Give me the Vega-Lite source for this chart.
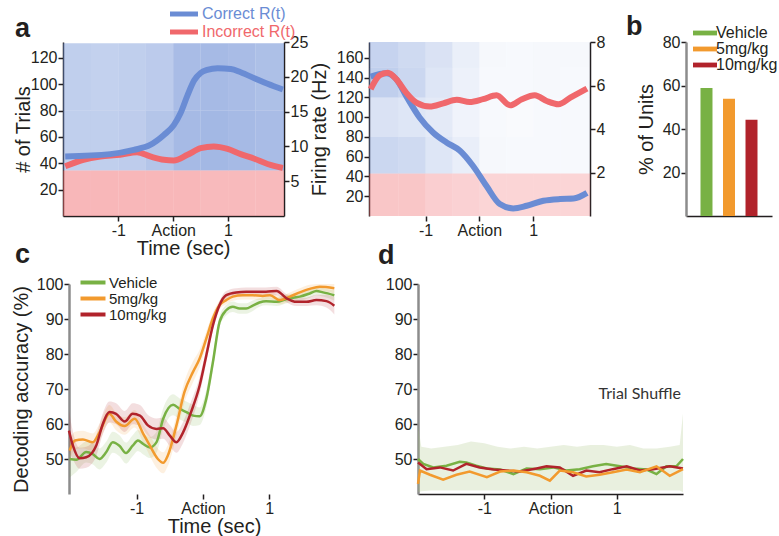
{
 "$schema": "https://vega.github.io/schema/vega-lite/v6.json",
 "padding": {"left": 11, "top": 6, "right": 0, "bottom": 0},
 "config": {
  "font": "Liberation Sans",
  "view": {"stroke": null},
  "axis": {"grid": false, "labelFontSize": 16, "titleFontSize": 20, "titleFontWeight": "normal", "labelColor": "#231f20", "titleColor": "#231f20", "domainColor": "#231f20", "tickColor": "#231f20", "domainWidth": 1.5, "tickWidth": 1.5, "tickSize": 5, "labelPadding": 1},
  "legend": {"labelFontSize": 16, "labelColor": "#231f20", "title": null, "rowPadding": 0},
  "title": {"fontSize": 27, "fontWeight": "bold", "anchor": "start", "frame": "group", "color": "#231f20"}
 },
 "datasets": {
  "rasterA": [
   {"t0": -2.01, "t1": -1.5, "n0": 34.5, "n1": 80, "rate": 0.42, "cond": "correct"},
   {"t0": -1.5, "t1": -1, "n0": 34.5, "n1": 80, "rate": 0.42, "cond": "correct"},
   {"t0": -1, "t1": -0.5, "n0": 34.5, "n1": 80, "rate": 0.44, "cond": "correct"},
   {"t0": -0.5, "t1": 0, "n0": 34.5, "n1": 80, "rate": 0.5, "cond": "correct"},
   {"t0": 0, "t1": 0.5, "n0": 34.5, "n1": 80, "rate": 0.6, "cond": "correct"},
   {"t0": 0.5, "t1": 1, "n0": 34.5, "n1": 80, "rate": 0.62, "cond": "correct"},
   {"t0": 1, "t1": 1.5, "n0": 34.5, "n1": 80, "rate": 0.6, "cond": "correct"},
   {"t0": 1.5, "t1": 2.02, "n0": 34.5, "n1": 80, "rate": 0.58, "cond": "correct"},
   {"t0": -2.01, "t1": -1.5, "n0": 80, "n1": 131, "rate": 0.42, "cond": "correct"},
   {"t0": -1.5, "t1": -1, "n0": 80, "n1": 131, "rate": 0.4, "cond": "correct"},
   {"t0": -1, "t1": -0.5, "n0": 80, "n1": 131, "rate": 0.42, "cond": "correct"},
   {"t0": -0.5, "t1": 0, "n0": 80, "n1": 131, "rate": 0.45, "cond": "correct"},
   {"t0": 0, "t1": 0.5, "n0": 80, "n1": 131, "rate": 0.58, "cond": "correct"},
   {"t0": 0.5, "t1": 1, "n0": 80, "n1": 131, "rate": 0.6, "cond": "correct"},
   {"t0": 1, "t1": 1.5, "n0": 80, "n1": 131, "rate": 0.58, "cond": "correct"},
   {"t0": 1.5, "t1": 2.02, "n0": 80, "n1": 131, "rate": 0.55, "cond": "correct"},
   {"t0": -2.01, "t1": -1.5, "n0": 0, "n1": 34.5, "rate": 0.48, "cond": "incorrect"},
   {"t0": -1.5, "t1": -1, "n0": 0, "n1": 34.5, "rate": 0.48, "cond": "incorrect"},
   {"t0": -1, "t1": -0.5, "n0": 0, "n1": 34.5, "rate": 0.48, "cond": "incorrect"},
   {"t0": -0.5, "t1": 0, "n0": 0, "n1": 34.5, "rate": 0.48, "cond": "incorrect"},
   {"t0": 0, "t1": 0.5, "n0": 0, "n1": 34.5, "rate": 0.48, "cond": "incorrect"},
   {"t0": 0.5, "t1": 1, "n0": 0, "n1": 34.5, "rate": 0.46, "cond": "incorrect"},
   {"t0": 1, "t1": 1.5, "n0": 0, "n1": 34.5, "rate": 0.46, "cond": "incorrect"},
   {"t0": 1.5, "t1": 2.02, "n0": 0, "n1": 34.5, "rate": 0.46, "cond": "incorrect"}
  ],
  "rasterB": [
   {"t0": -2.05, "t1": -1.5, "n0": 0, "n1": 43, "rate": 0.38, "cond": "incorrect"},
   {"t0": -1.5, "t1": -1, "n0": 0, "n1": 43, "rate": 0.38, "cond": "incorrect"},
   {"t0": -1, "t1": -0.5, "n0": 0, "n1": 43, "rate": 0.32, "cond": "incorrect"},
   {"t0": -0.5, "t1": 0, "n0": 0, "n1": 43, "rate": 0.3, "cond": "incorrect"},
   {"t0": 0, "t1": 0.5, "n0": 0, "n1": 43, "rate": 0.28, "cond": "incorrect"},
   {"t0": 0.5, "t1": 1, "n0": 0, "n1": 43, "rate": 0.28, "cond": "incorrect"},
   {"t0": 1, "t1": 1.5, "n0": 0, "n1": 43, "rate": 0.28, "cond": "incorrect"},
   {"t0": 1.5, "t1": 2.06, "n0": 0, "n1": 43, "rate": 0.28, "cond": "incorrect"},
   {"t0": -2.05, "t1": -1.5, "n0": 43, "n1": 80, "rate": 0.35, "cond": "correct"},
   {"t0": -1.5, "t1": -1, "n0": 43, "n1": 80, "rate": 0.32, "cond": "correct"},
   {"t0": -1, "t1": -0.5, "n0": 43, "n1": 80, "rate": 0.22, "cond": "correct"},
   {"t0": -0.5, "t1": 0, "n0": 43, "n1": 80, "rate": 0.15, "cond": "correct"},
   {"t0": 0, "t1": 0.5, "n0": 43, "n1": 80, "rate": 0.06, "cond": "correct"},
   {"t0": 0.5, "t1": 1, "n0": 43, "n1": 80, "rate": 0.05, "cond": "correct"},
   {"t0": 1, "t1": 1.5, "n0": 43, "n1": 80, "rate": 0.05, "cond": "correct"},
   {"t0": 1.5, "t1": 2.06, "n0": 43, "n1": 80, "rate": 0.05, "cond": "correct"},
   {"t0": -2.05, "t1": -1.5, "n0": 80, "n1": 120, "rate": 0.25, "cond": "correct"},
   {"t0": -1.5, "t1": -1, "n0": 80, "n1": 120, "rate": 0.22, "cond": "correct"},
   {"t0": -1, "t1": -0.5, "n0": 80, "n1": 120, "rate": 0.18, "cond": "correct"},
   {"t0": -0.5, "t1": 0, "n0": 80, "n1": 120, "rate": 0.1, "cond": "correct"},
   {"t0": 0, "t1": 0.5, "n0": 80, "n1": 120, "rate": 0.05, "cond": "correct"},
   {"t0": 0.5, "t1": 1, "n0": 80, "n1": 120, "rate": 0.04, "cond": "correct"},
   {"t0": 1, "t1": 1.5, "n0": 80, "n1": 120, "rate": 0.05, "cond": "correct"},
   {"t0": 1.5, "t1": 2.06, "n0": 80, "n1": 120, "rate": 0.05, "cond": "correct"},
   {"t0": -2.05, "t1": -1.5, "n0": 120, "n1": 150, "rate": 0.42, "cond": "correct"},
   {"t0": -1.5, "t1": -1, "n0": 120, "n1": 150, "rate": 0.35, "cond": "correct"},
   {"t0": -1, "t1": -0.5, "n0": 120, "n1": 150, "rate": 0.22, "cond": "correct"},
   {"t0": -0.5, "t1": 0, "n0": 120, "n1": 150, "rate": 0.12, "cond": "correct"},
   {"t0": 0, "t1": 0.5, "n0": 120, "n1": 150, "rate": 0.05, "cond": "correct"},
   {"t0": 0.5, "t1": 1, "n0": 120, "n1": 150, "rate": 0.05, "cond": "correct"},
   {"t0": 1, "t1": 1.5, "n0": 120, "n1": 150, "rate": 0.06, "cond": "correct"},
   {"t0": 1.5, "t1": 2.06, "n0": 120, "n1": 150, "rate": 0.05, "cond": "correct"},
   {"t0": -2.05, "t1": -1.5, "n0": 150, "n1": 176, "rate": 0.38, "cond": "correct"},
   {"t0": -1.5, "t1": -1, "n0": 150, "n1": 176, "rate": 0.32, "cond": "correct"},
   {"t0": -1, "t1": -0.5, "n0": 150, "n1": 176, "rate": 0.25, "cond": "correct"},
   {"t0": -0.5, "t1": 0, "n0": 150, "n1": 176, "rate": 0.14, "cond": "correct"},
   {"t0": 0, "t1": 0.5, "n0": 150, "n1": 176, "rate": 0.06, "cond": "correct"},
   {"t0": 0.5, "t1": 1, "n0": 150, "n1": 176, "rate": 0.05, "cond": "correct"},
   {"t0": 1, "t1": 1.5, "n0": 150, "n1": 176, "rate": 0.06, "cond": "correct"},
   {"t0": 1.5, "t1": 2.06, "n0": 150, "n1": 176, "rate": 0.06, "cond": "correct"}
  ],
  "rateA": [
   {"cond": "Incorrect R(t)", "t": -1.97, "hz": 7.14},
   {"cond": "Incorrect R(t)", "t": -1.64, "hz": 8.08},
   {"cond": "Incorrect R(t)", "t": -1.33, "hz": 8.56},
   {"cond": "Incorrect R(t)", "t": -0.97, "hz": 8.79},
   {"cond": "Incorrect R(t)", "t": -0.66, "hz": 9.17},
   {"cond": "Incorrect R(t)", "t": -0.42, "hz": 8.56},
   {"cond": "Incorrect R(t)", "t": -0.17, "hz": 8.08},
   {"cond": "Incorrect R(t)", "t": 0.01, "hz": 7.99},
   {"cond": "Incorrect R(t)", "t": 0.26, "hz": 8.79},
   {"cond": "Incorrect R(t)", "t": 0.5, "hz": 9.74},
   {"cond": "Incorrect R(t)", "t": 0.74, "hz": 9.99},
   {"cond": "Incorrect R(t)", "t": 0.99, "hz": 9.64},
   {"cond": "Incorrect R(t)", "t": 1.23, "hz": 8.89},
   {"cond": "Incorrect R(t)", "t": 1.48, "hz": 8.22},
   {"cond": "Incorrect R(t)", "t": 1.72, "hz": 7.47},
   {"cond": "Incorrect R(t)", "t": 2.0, "hz": 6.9},
   {"cond": "Correct R(t)", "t": -1.97, "hz": 8.56},
   {"cond": "Correct R(t)", "t": -1.15, "hz": 8.89},
   {"cond": "Correct R(t)", "t": -0.72, "hz": 9.5},
   {"cond": "Correct R(t)", "t": -0.42, "hz": 10.21},
   {"cond": "Correct R(t)", "t": -0.17, "hz": 11.64},
   {"cond": "Correct R(t)", "t": 0.01, "hz": 13.06},
   {"cond": "Correct R(t)", "t": 0.13, "hz": 14.72},
   {"cond": "Correct R(t)", "t": 0.26, "hz": 17.33},
   {"cond": "Correct R(t)", "t": 0.38, "hz": 19.46},
   {"cond": "Correct R(t)", "t": 0.5, "hz": 20.55},
   {"cond": "Correct R(t)", "t": 0.62, "hz": 20.98},
   {"cond": "Correct R(t)", "t": 0.81, "hz": 21.22},
   {"cond": "Correct R(t)", "t": 1.05, "hz": 21.12},
   {"cond": "Correct R(t)", "t": 1.23, "hz": 20.65},
   {"cond": "Correct R(t)", "t": 1.48, "hz": 19.8},
   {"cond": "Correct R(t)", "t": 1.72, "hz": 18.99},
   {"cond": "Correct R(t)", "t": 2.0, "hz": 18.18}
  ],
  "rateB": [
   {"cond": "Correct R(t)", "t": -2.02, "hz": 6.41},
   {"cond": "Correct R(t)", "t": -1.73, "hz": 6.56},
   {"cond": "Correct R(t)", "t": -1.54, "hz": 6.28},
   {"cond": "Correct R(t)", "t": -1.36, "hz": 5.52},
   {"cond": "Correct R(t)", "t": -1.11, "hz": 4.53},
   {"cond": "Correct R(t)", "t": -0.86, "hz": 3.84},
   {"cond": "Correct R(t)", "t": -0.61, "hz": 3.38},
   {"cond": "Correct R(t)", "t": -0.36, "hz": 3.0},
   {"cond": "Correct R(t)", "t": -0.12, "hz": 2.31},
   {"cond": "Correct R(t)", "t": 0.13, "hz": 1.39},
   {"cond": "Correct R(t)", "t": 0.38, "hz": 0.55},
   {"cond": "Correct R(t)", "t": 0.63, "hz": 0.35},
   {"cond": "Correct R(t)", "t": 0.88, "hz": 0.47},
   {"cond": "Correct R(t)", "t": 1.19, "hz": 0.7},
   {"cond": "Correct R(t)", "t": 1.5, "hz": 0.78},
   {"cond": "Correct R(t)", "t": 1.75, "hz": 0.8},
   {"cond": "Correct R(t)", "t": 2.0, "hz": 1.06},
   {"cond": "Incorrect R(t)", "t": -2.02, "hz": 5.83},
   {"cond": "Incorrect R(t)", "t": -1.85, "hz": 6.47},
   {"cond": "Incorrect R(t)", "t": -1.7, "hz": 6.59},
   {"cond": "Incorrect R(t)", "t": -1.54, "hz": 6.28},
   {"cond": "Incorrect R(t)", "t": -1.36, "hz": 5.67},
   {"cond": "Incorrect R(t)", "t": -1.17, "hz": 5.21},
   {"cond": "Incorrect R(t)", "t": -0.92, "hz": 5.03},
   {"cond": "Incorrect R(t)", "t": -0.67, "hz": 5.18},
   {"cond": "Incorrect R(t)", "t": -0.42, "hz": 5.34},
   {"cond": "Incorrect R(t)", "t": -0.18, "hz": 5.24},
   {"cond": "Incorrect R(t)", "t": 0.07, "hz": 5.37},
   {"cond": "Incorrect R(t)", "t": 0.32, "hz": 5.55},
   {"cond": "Incorrect R(t)", "t": 0.57, "hz": 5.09},
   {"cond": "Incorrect R(t)", "t": 0.79, "hz": 5.37},
   {"cond": "Incorrect R(t)", "t": 1.03, "hz": 5.55},
   {"cond": "Incorrect R(t)", "t": 1.25, "hz": 5.29},
   {"cond": "Incorrect R(t)", "t": 1.47, "hz": 5.14},
   {"cond": "Incorrect R(t)", "t": 1.69, "hz": 5.44},
   {"cond": "Incorrect R(t)", "t": 2.0, "hz": 5.86}
  ],
  "units": [
   {"g": "Vehicle", "pct": 58.9},
   {"g": "5mg/kg", "pct": 53.9},
   {"g": "10mg/kg", "pct": 44.2}
  ],
  "decC": [
   {"g": "Vehicle", "t": -2.01, "v": 50.0, "lo": 44.7, "hi": 55.0},
   {"g": "Vehicle", "t": -1.91, "v": 49.8, "lo": 46.3, "hi": 53.3},
   {"g": "Vehicle", "t": -1.76, "v": 52.0, "lo": 49.0, "hi": 55.0},
   {"g": "Vehicle", "t": -1.66, "v": 51.4, "lo": 48.4, "hi": 54.4},
   {"g": "Vehicle", "t": -1.56, "v": 50.0, "lo": 47.0, "hi": 53.0},
   {"g": "Vehicle", "t": -1.46, "v": 51.9, "lo": 48.9, "hi": 54.9},
   {"g": "Vehicle", "t": -1.36, "v": 54.8, "lo": 51.8, "hi": 57.8},
   {"g": "Vehicle", "t": -1.26, "v": 53.8, "lo": 50.8, "hi": 56.8},
   {"g": "Vehicle", "t": -1.16, "v": 51.7, "lo": 48.7, "hi": 54.7},
   {"g": "Vehicle", "t": -1.06, "v": 53.8, "lo": 50.8, "hi": 56.8},
   {"g": "Vehicle", "t": -0.98, "v": 55.3, "lo": 52.3, "hi": 58.3},
   {"g": "Vehicle", "t": -0.9, "v": 54.3, "lo": 51.3, "hi": 57.3},
   {"g": "Vehicle", "t": -0.8, "v": 53.3, "lo": 50.3, "hi": 56.3},
   {"g": "Vehicle", "t": -0.7, "v": 54.8, "lo": 51.8, "hi": 57.8},
   {"g": "Vehicle", "t": -0.6, "v": 61.5, "lo": 58.5, "hi": 64.5},
   {"g": "Vehicle", "t": -0.45, "v": 65.5, "lo": 62.5, "hi": 68.5},
   {"g": "Vehicle", "t": -0.35, "v": 64.3, "lo": 61.3, "hi": 67.3},
   {"g": "Vehicle", "t": -0.25, "v": 63.4, "lo": 60.4, "hi": 66.4},
   {"g": "Vehicle", "t": -0.15, "v": 62.4, "lo": 59.4, "hi": 65.4},
   {"g": "Vehicle", "t": -0.05, "v": 62.2, "lo": 59.7, "hi": 64.7},
   {"g": "Vehicle", "t": 0.05, "v": 67.2, "lo": 64.7, "hi": 69.7},
   {"g": "Vehicle", "t": 0.15, "v": 77.7, "lo": 75.7, "hi": 79.7},
   {"g": "Vehicle", "t": 0.25, "v": 89.2, "lo": 87.7, "hi": 90.7},
   {"g": "Vehicle", "t": 0.35, "v": 92.5, "lo": 91.0, "hi": 94.0},
   {"g": "Vehicle", "t": 0.45, "v": 93.5, "lo": 92.0, "hi": 95.0},
   {"g": "Vehicle", "t": 0.55, "v": 93.0, "lo": 91.5, "hi": 94.5},
   {"g": "Vehicle", "t": 0.65, "v": 93.0, "lo": 91.5, "hi": 94.5},
   {"g": "Vehicle", "t": 0.75, "v": 93.8, "lo": 92.3, "hi": 95.3},
   {"g": "Vehicle", "t": 0.85, "v": 94.7, "lo": 93.5, "hi": 95.9},
   {"g": "Vehicle", "t": 0.95, "v": 95.1, "lo": 93.9, "hi": 96.3},
   {"g": "Vehicle", "t": 1.11, "v": 94.9, "lo": 93.7, "hi": 96.1},
   {"g": "Vehicle", "t": 1.26, "v": 95.7, "lo": 94.5, "hi": 96.9},
   {"g": "Vehicle", "t": 1.36, "v": 96.1, "lo": 94.9, "hi": 97.3},
   {"g": "Vehicle", "t": 1.46, "v": 96.4, "lo": 95.2, "hi": 97.6},
   {"g": "Vehicle", "t": 1.61, "v": 97.3, "lo": 96.1, "hi": 98.5},
   {"g": "Vehicle", "t": 1.71, "v": 98.0, "lo": 96.8, "hi": 99.2},
   {"g": "Vehicle", "t": 1.81, "v": 97.6, "lo": 96.4, "hi": 98.8},
   {"g": "Vehicle", "t": 1.98, "v": 96.8, "lo": 95.3, "hi": 98.3},
   {"g": "5mg/kg", "t": -2.01, "v": 52.4, "lo": 49.4, "hi": 55.4},
   {"g": "5mg/kg", "t": -1.93, "v": 55.3, "lo": 52.8, "hi": 57.8},
   {"g": "5mg/kg", "t": -1.81, "v": 55.6, "lo": 53.1, "hi": 58.1},
   {"g": "5mg/kg", "t": -1.66, "v": 54.8, "lo": 52.3, "hi": 57.3},
   {"g": "5mg/kg", "t": -1.56, "v": 57.6, "lo": 55.1, "hi": 60.1},
   {"g": "5mg/kg", "t": -1.41, "v": 62.9, "lo": 60.4, "hi": 65.4},
   {"g": "5mg/kg", "t": -1.31, "v": 60.7, "lo": 58.2, "hi": 63.2},
   {"g": "5mg/kg", "t": -1.18, "v": 59.4, "lo": 56.9, "hi": 61.9},
   {"g": "5mg/kg", "t": -1.03, "v": 61.5, "lo": 59.0, "hi": 64.0},
   {"g": "5mg/kg", "t": -0.9, "v": 57.2, "lo": 54.7, "hi": 59.7},
   {"g": "5mg/kg", "t": -0.8, "v": 53.8, "lo": 50.8, "hi": 56.8},
   {"g": "5mg/kg", "t": -0.68, "v": 50.0, "lo": 47.0, "hi": 53.0},
   {"g": "5mg/kg", "t": -0.6, "v": 48.9, "lo": 45.9, "hi": 51.9},
   {"g": "5mg/kg", "t": -0.53, "v": 51.0, "lo": 48.0, "hi": 54.0},
   {"g": "5mg/kg", "t": -0.4, "v": 59.6, "lo": 56.6, "hi": 62.6},
   {"g": "5mg/kg", "t": -0.28, "v": 69.1, "lo": 66.1, "hi": 72.1},
   {"g": "5mg/kg", "t": -0.15, "v": 74.9, "lo": 71.9, "hi": 77.9},
   {"g": "5mg/kg", "t": -0.05, "v": 78.7, "lo": 76.2, "hi": 81.2},
   {"g": "5mg/kg", "t": 0.05, "v": 84.4, "lo": 82.4, "hi": 86.4},
   {"g": "5mg/kg", "t": 0.15, "v": 90.2, "lo": 88.7, "hi": 91.7},
   {"g": "5mg/kg", "t": 0.25, "v": 94.0, "lo": 92.8, "hi": 95.2},
   {"g": "5mg/kg", "t": 0.35, "v": 95.4, "lo": 94.2, "hi": 96.6},
   {"g": "5mg/kg", "t": 0.45, "v": 96.4, "lo": 95.2, "hi": 97.6},
   {"g": "5mg/kg", "t": 0.6, "v": 96.8, "lo": 95.6, "hi": 98.0},
   {"g": "5mg/kg", "t": 0.75, "v": 96.8, "lo": 95.6, "hi": 98.0},
   {"g": "5mg/kg", "t": 0.9, "v": 96.6, "lo": 95.4, "hi": 97.8},
   {"g": "5mg/kg", "t": 1.01, "v": 96.8, "lo": 95.6, "hi": 98.0},
   {"g": "5mg/kg", "t": 1.16, "v": 95.4, "lo": 94.2, "hi": 96.6},
   {"g": "5mg/kg", "t": 1.31, "v": 96.4, "lo": 95.2, "hi": 97.6},
   {"g": "5mg/kg", "t": 1.46, "v": 97.6, "lo": 96.4, "hi": 98.8},
   {"g": "5mg/kg", "t": 1.61, "v": 98.6, "lo": 97.4, "hi": 99.8},
   {"g": "5mg/kg", "t": 1.76, "v": 99.2, "lo": 98.0, "hi": 100.0},
   {"g": "5mg/kg", "t": 1.98, "v": 98.8, "lo": 97.3, "hi": 100.0},
   {"g": "10mg/kg", "t": -2.02, "v": 58.1, "lo": 52.1, "hi": 64.1},
   {"g": "10mg/kg", "t": -1.96, "v": 53.8, "lo": 49.8, "hi": 57.8},
   {"g": "10mg/kg", "t": -1.86, "v": 50.2, "lo": 47.2, "hi": 53.2},
   {"g": "10mg/kg", "t": -1.76, "v": 50.5, "lo": 47.5, "hi": 53.5},
   {"g": "10mg/kg", "t": -1.61, "v": 53.8, "lo": 50.8, "hi": 56.8},
   {"g": "10mg/kg", "t": -1.51, "v": 60.0, "lo": 57.0, "hi": 63.0},
   {"g": "10mg/kg", "t": -1.41, "v": 63.4, "lo": 60.4, "hi": 66.4},
   {"g": "10mg/kg", "t": -1.31, "v": 62.9, "lo": 59.9, "hi": 65.9},
   {"g": "10mg/kg", "t": -1.18, "v": 60.7, "lo": 57.7, "hi": 63.7},
   {"g": "10mg/kg", "t": -1.06, "v": 62.9, "lo": 59.9, "hi": 65.9},
   {"g": "10mg/kg", "t": -0.95, "v": 62.4, "lo": 59.4, "hi": 65.4},
   {"g": "10mg/kg", "t": -0.83, "v": 59.6, "lo": 56.6, "hi": 62.6},
   {"g": "10mg/kg", "t": -0.7, "v": 58.6, "lo": 55.6, "hi": 61.6},
   {"g": "10mg/kg", "t": -0.6, "v": 58.8, "lo": 55.8, "hi": 61.8},
   {"g": "10mg/kg", "t": -0.5, "v": 56.7, "lo": 53.7, "hi": 59.7},
   {"g": "10mg/kg", "t": -0.4, "v": 54.8, "lo": 51.8, "hi": 57.8},
   {"g": "10mg/kg", "t": -0.3, "v": 57.6, "lo": 54.6, "hi": 60.6},
   {"g": "10mg/kg", "t": -0.18, "v": 63.4, "lo": 60.4, "hi": 66.4},
   {"g": "10mg/kg", "t": -0.05, "v": 71.0, "lo": 68.5, "hi": 73.5},
   {"g": "10mg/kg", "t": 0.05, "v": 79.6, "lo": 77.6, "hi": 81.6},
   {"g": "10mg/kg", "t": 0.15, "v": 88.2, "lo": 86.7, "hi": 89.7},
   {"g": "10mg/kg", "t": 0.25, "v": 94.0, "lo": 92.8, "hi": 95.2},
   {"g": "10mg/kg", "t": 0.35, "v": 96.8, "lo": 95.6, "hi": 98.0},
   {"g": "10mg/kg", "t": 0.5, "v": 97.6, "lo": 96.4, "hi": 98.8},
   {"g": "10mg/kg", "t": 0.65, "v": 97.8, "lo": 96.6, "hi": 99.0},
   {"g": "10mg/kg", "t": 0.8, "v": 97.8, "lo": 96.6, "hi": 99.0},
   {"g": "10mg/kg", "t": 0.95, "v": 97.8, "lo": 96.6, "hi": 99.0},
   {"g": "10mg/kg", "t": 1.11, "v": 98.0, "lo": 96.8, "hi": 99.2},
   {"g": "10mg/kg", "t": 1.26, "v": 95.9, "lo": 94.7, "hi": 97.1},
   {"g": "10mg/kg", "t": 1.41, "v": 94.9, "lo": 93.7, "hi": 96.1},
   {"g": "10mg/kg", "t": 1.56, "v": 94.9, "lo": 93.7, "hi": 96.1},
   {"g": "10mg/kg", "t": 1.71, "v": 95.4, "lo": 93.9, "hi": 96.9},
   {"g": "10mg/kg", "t": 1.86, "v": 95.1, "lo": 93.3, "hi": 96.9},
   {"g": "10mg/kg", "t": 1.98, "v": 93.8, "lo": 91.3, "hi": 96.3}
  ],
  "decD": [
   {"g": "Vehicle", "t": -2.0, "v": 50.0}, {"g": "Vehicle", "t": -1.92, "v": 48.6}, {"g": "Vehicle", "t": -1.77, "v": 47.6}, {"g": "Vehicle", "t": -1.57, "v": 48.1}, {"g": "Vehicle", "t": -1.37, "v": 49.2}, {"g": "Vehicle", "t": -1.27, "v": 49.0}, {"g": "Vehicle", "t": -1.12, "v": 48.1}, {"g": "Vehicle", "t": -0.96, "v": 47.3}, {"g": "Vehicle", "t": -0.76, "v": 47.0}, {"g": "Vehicle", "t": -0.56, "v": 45.7}, {"g": "Vehicle", "t": -0.36, "v": 47.3}, {"g": "Vehicle", "t": -0.16, "v": 47.1}, {"g": "Vehicle", "t": 0.04, "v": 47.6}, {"g": "Vehicle", "t": 0.24, "v": 46.7}, {"g": "Vehicle", "t": 0.44, "v": 47.1}, {"g": "Vehicle", "t": 0.64, "v": 47.9}, {"g": "Vehicle", "t": 0.84, "v": 48.6}, {"g": "Vehicle", "t": 1.05, "v": 47.9}, {"g": "Vehicle", "t": 1.25, "v": 47.3}, {"g": "Vehicle", "t": 1.45, "v": 47.0}, {"g": "Vehicle", "t": 1.6, "v": 45.7}, {"g": "Vehicle", "t": 1.75, "v": 47.9}, {"g": "Vehicle", "t": 1.9, "v": 47.9}, {"g": "Vehicle", "t": 2.0, "v": 50.0},
   {"g": "10mg/kg", "t": -2.0, "v": 49.0}, {"g": "10mg/kg", "t": -1.87, "v": 47.1}, {"g": "10mg/kg", "t": -1.67, "v": 47.6}, {"g": "10mg/kg", "t": -1.47, "v": 46.7}, {"g": "10mg/kg", "t": -1.27, "v": 48.6}, {"g": "10mg/kg", "t": -1.07, "v": 47.6}, {"g": "10mg/kg", "t": -0.86, "v": 47.0}, {"g": "10mg/kg", "t": -0.66, "v": 46.7}, {"g": "10mg/kg", "t": -0.46, "v": 46.4}, {"g": "10mg/kg", "t": -0.21, "v": 47.3}, {"g": "10mg/kg", "t": -0.06, "v": 47.9}, {"g": "10mg/kg", "t": 0.14, "v": 47.6}, {"g": "10mg/kg", "t": 0.34, "v": 45.2}, {"g": "10mg/kg", "t": 0.54, "v": 46.7}, {"g": "10mg/kg", "t": 0.74, "v": 46.2}, {"g": "10mg/kg", "t": 0.94, "v": 47.1}, {"g": "10mg/kg", "t": 1.15, "v": 47.9}, {"g": "10mg/kg", "t": 1.35, "v": 46.7}, {"g": "10mg/kg", "t": 1.55, "v": 47.1}, {"g": "10mg/kg", "t": 1.8, "v": 47.9}, {"g": "10mg/kg", "t": 2.0, "v": 47.3},
   {"g": "5mg/kg", "t": -2.0, "v": 42.9}, {"g": "5mg/kg", "t": -1.97, "v": 46.7}, {"g": "5mg/kg", "t": -1.82, "v": 45.5}, {"g": "5mg/kg", "t": -1.62, "v": 44.1}, {"g": "5mg/kg", "t": -1.42, "v": 45.5}, {"g": "5mg/kg", "t": -1.22, "v": 46.4}, {"g": "5mg/kg", "t": -0.96, "v": 44.8}, {"g": "5mg/kg", "t": -0.76, "v": 46.4}, {"g": "5mg/kg", "t": -0.56, "v": 46.7}, {"g": "5mg/kg", "t": -0.36, "v": 46.2}, {"g": "5mg/kg", "t": -0.16, "v": 45.2}, {"g": "5mg/kg", "t": -0.01, "v": 43.8}, {"g": "5mg/kg", "t": 0.14, "v": 46.7}, {"g": "5mg/kg", "t": 0.34, "v": 46.2}, {"g": "5mg/kg", "t": 0.54, "v": 45.0}, {"g": "5mg/kg", "t": 0.74, "v": 45.5}, {"g": "5mg/kg", "t": 0.94, "v": 46.2}, {"g": "5mg/kg", "t": 1.15, "v": 47.0}, {"g": "5mg/kg", "t": 1.35, "v": 46.2}, {"g": "5mg/kg", "t": 1.6, "v": 47.9}, {"g": "5mg/kg", "t": 1.8, "v": 45.2}, {"g": "5mg/kg", "t": 2.0, "v": 47.1}
  ],
  "bandD": [
   {"t": -2.0, "lo": 40.5, "hi": 59.5}, {"t": -1.95, "lo": 40.8, "hi": 53.5}, {"t": -1.8, "lo": 41, "hi": 53}, {"t": -1.6, "lo": 41, "hi": 53.5}, {"t": -1.4, "lo": 41, "hi": 54}, {"t": -1.2, "lo": 41, "hi": 55}, {"t": -1.0, "lo": 41, "hi": 54.5}, {"t": -0.8, "lo": 41, "hi": 53.5}, {"t": -0.6, "lo": 41, "hi": 53}, {"t": -0.4, "lo": 41, "hi": 53.5}, {"t": -0.2, "lo": 41, "hi": 53}, {"t": 0.0, "lo": 41, "hi": 53.5}, {"t": 0.2, "lo": 41, "hi": 54}, {"t": 0.4, "lo": 41, "hi": 53.5}, {"t": 0.6, "lo": 41, "hi": 54}, {"t": 0.8, "lo": 41, "hi": 54}, {"t": 1.0, "lo": 41, "hi": 53.5}, {"t": 1.2, "lo": 41, "hi": 54}, {"t": 1.4, "lo": 41, "hi": 53}, {"t": 1.6, "lo": 41, "hi": 53}, {"t": 1.8, "lo": 41, "hi": 53.5}, {"t": 1.95, "lo": 41, "hi": 54}, {"t": 2.0, "lo": 40.5, "hi": 63}
  ],
  "note": [{"t": 1.97, "v": 68.5, "label": "Trial Shuffle"}]
 },
 "vconcat": [
  {
   "hconcat": [
    {
     "width": 221, "height": 174,
     "title": {"text": "a", "dx": -48, "dy": 41},
     "layer": [
      {
       "data": {"name": "rasterA"},
       "mark": {"type": "rect"},
       "encoding": {
        "x": {"field": "t0", "type": "quantitative", "scale": {"domain": [-2.01, 2.02], "nice": false, "zero": false}, "axis": {"values": [-1, 0, 1], "labelExpr": "datum.value == 0 ? 'Action' : (datum.value < 0 ? '-1' : '1')", "title": "Time (sec)", "titlePadding": 0, "titleX": 120}},
        "x2": {"field": "t1"},
        "y": {"field": "n0", "type": "quantitative", "scale": {"domain": [0, 132], "nice": false}, "axis": {"values": [20, 40, 60, 80, 100, 120], "title": "# of Trials", "titlePadding": -3}},
        "y2": {"field": "n1"},
        "color": {"field": "cond", "type": "nominal", "scale": {"domain": ["correct", "incorrect"], "range": ["#6a8cd4", "#f0686c"]}, "legend": null},
        "opacity": {"field": "rate", "type": "quantitative", "scale": {"domain": [0, 1], "range": [0, 1]}, "legend": null}
       }
      },
      {
       "data": {"name": "rateA"},
       "mark": {"type": "line", "strokeWidth": 6, "interpolate": "monotone"},
       "encoding": {
        "x": {"field": "t", "type": "quantitative"},
        "y": {"field": "hz", "type": "quantitative", "scale": {"domain": [0, 25], "nice": false}, "axis": {"orient": "right", "values": [5, 10, 15, 20, 25], "title": "Firing rate (Hz)", "titleAngle": 270, "titleBaseline": "top", "titlePadding": 2}},
        "color": {"field": "cond", "type": "nominal", "scale": {"domain": ["Correct R(t)", "Incorrect R(t)"], "range": ["#6a8cd4", "#f0686c"]},
         "legend": {"orient": "none", "legendX": 101, "legendY": -36, "symbolType": "M-1,0H13", "symbolStrokeWidth": 5, "symbolSize": 16, "labelOffset": 22, "rowPadding": -8,
           "encode": {"labels": {"update": {"fill": {"signal": "datum.value == 'Correct R(t)' ? '#6a8cd4' : '#f0686c'"}}}}}}
       }
      }
     ],
     "resolve": {"scale": {"y": "independent", "color": "independent"}}
    },
    {
     "width": 232, "height": 174,
     "layer": [
      {
       "data": {"name": "rasterB"},
       "mark": {"type": "rect"},
       "encoding": {
        "x": {"field": "t0", "type": "quantitative", "scale": {"domain": [-2.05, 2.26], "nice": false, "zero": false}, "axis": {"values": [-1, 0, 1], "labelExpr": "datum.value == 0 ? 'Action' : (datum.value < 0 ? '-1' : '1')", "title": null, "domain": false}},
        "x2": {"field": "t1"},
        "y": {"field": "n0", "type": "quantitative", "scale": {"domain": [0, 176], "nice": false}, "axis": {"values": [20, 40, 60, 80, 100, 120, 140, 160], "title": null}},
        "y2": {"field": "n1"},
        "color": {"field": "cond", "type": "nominal", "scale": {"domain": ["correct", "incorrect"], "range": ["#6a8cd4", "#f0686c"]}, "legend": null},
        "opacity": {"field": "rate", "type": "quantitative", "scale": {"domain": [0, 1], "range": [0, 1]}, "legend": null}
       }
      },
      {
       "mark": {"type": "rule", "color": "#231f20", "strokeWidth": 1.5},
       "encoding": {"x": {"datum": -2.05}, "x2": {"datum": 2.06}, "y": {"datum": 0, "scale": {"domain": [0, 176]}, "axis": null}}
      },
      {
       "data": {"name": "rateB"},
       "mark": {"type": "line", "strokeWidth": 6, "interpolate": "monotone"},
       "encoding": {
        "x": {"field": "t", "type": "quantitative"},
        "y": {"field": "hz", "type": "quantitative", "scale": {"domain": [0, 8], "nice": false}, "axis": {"orient": "right", "values": [2, 4, 6, 8], "title": null, "offset": -11}},
        "color": {"field": "cond", "type": "nominal", "scale": {"domain": ["Correct R(t)", "Incorrect R(t)"], "range": ["#6a8cd4", "#f0686c"]}, "legend": null}
       }
      }
     ],
     "resolve": {"scale": {"y": "independent", "color": "independent"}}
    },
    {
     "width": 86, "height": 174,
     "title": {"text": "b", "dx": -60, "dy": 20},
     "data": {"name": "units"},
     "mark": {"type": "bar"},
     "encoding": {
      "x": {"field": "g", "type": "nominal", "sort": ["Vehicle", "5mg/kg", "10mg/kg"], "scale": {"paddingInner": 0.467, "paddingOuter": 0.644}, "axis": {"labels": false, "ticks": false, "title": null}},
      "y": {"field": "pct", "type": "quantitative", "scale": {"domain": [0, 80], "nice": false}, "axis": {"values": [20, 40, 60, 80], "title": "% of Units", "domainColor": "#8c8c8c", "domainWidth": 2.5, "titlePadding": 6}},
      "color": {"field": "g", "type": "nominal", "scale": {"domain": ["Vehicle", "5mg/kg", "10mg/kg"], "range": ["#78b144", "#f29a2e", "#b1232b"]},
       "legend": {"orient": "none", "legendX": 1, "legendY": -17, "symbolType": "M-1,-1.2H11V1.2H-1Z", "symbolSize": 16, "labelOffset": 13}}
     }
    }
   ],
   "spacing": 85, "bounds": "flush",
   "resolve": {"scale": {"color": "independent"}, "legend": {"color": "independent"}}
  },
  {
   "hconcat": [
    {
     "width": 272, "height": 210,
     "title": {"text": "c", "dx": -48, "dy": -2},
     "layer": [
      {
       "data": {"name": "decC"},
       "mark": {"type": "area", "opacity": 0.15, "interpolate": "monotone"},
       "encoding": {
        "x": {"field": "t", "type": "quantitative", "scale": {"domain": [-2.11, 1.99], "nice": false, "zero": false}, "axis": {"values": [-1, 0, 1], "labelExpr": "datum.value == 0 ? 'Action' : (datum.value < 0 ? '-1' : '1')", "title": "Time (sec)", "titlePadding": 0, "titleX": 151, "domain": false}},
        "y": {"field": "lo", "type": "quantitative", "scale": {"domain": [40, 100], "nice": false, "zero": false}, "axis": {"values": [50, 60, 70, 80, 90, 100], "title": "Decoding accuracy (%)", "offset": -6, "domainColor": "#8c8c8c", "domainWidth": 2.5, "titlePadding": 5}},
        "y2": {"field": "hi"},
        "color": {"field": "g", "type": "nominal", "scale": {"domain": ["Vehicle", "5mg/kg", "10mg/kg"], "range": ["#78b144", "#f29a2e", "#b1232b"]}, "legend": null}
       }
      },
      {
       "mark": {"type": "rule", "strokeDash": [4, 4], "color": "#555555", "strokeWidth": 2},
       "encoding": {"x": {"datum": -2.02}, "x2": {"datum": 1.99}, "y": {"datum": 50}}
      },
      {
       "mark": {"type": "rule", "color": "#231f20", "strokeWidth": 1.5},
       "encoding": {"x": {"datum": -2.02}, "x2": {"datum": 1.99}, "y": {"datum": 40}}
      },
      {
       "data": {"name": "decC"},
       "mark": {"type": "line", "strokeWidth": 2.5, "interpolate": "monotone"},
       "encoding": {
        "x": {"field": "t", "type": "quantitative"},
        "y": {"field": "v", "type": "quantitative"},
        "color": {"field": "g", "type": "nominal", "scale": {"domain": ["Vehicle", "5mg/kg", "10mg/kg"], "range": ["#78b144", "#f29a2e", "#b1232b"]},
         "legend": {"orient": "none", "legendX": 12, "legendY": -9, "symbolType": "M-1,0H11.5", "symbolStrokeWidth": 4, "symbolSize": 16, "labelOffset": 19, "labelFontSize": 15, "rowPadding": -5}}
       }
      }
     ],
     "resolve": {"scale": {"color": "independent"}}
    },
    {
     "width": 265, "height": 210,
     "title": {"text": "d", "dx": -40, "dy": -2},
     "layer": [
      {
       "data": {"name": "bandD"},
       "mark": {"type": "area", "color": "#a9c47f", "opacity": 0.25},
       "encoding": {
        "x": {"field": "t", "type": "quantitative", "scale": {"domain": [-2.0, 2.0], "nice": false, "zero": false}, "axis": {"values": [-1, 0, 1], "labelExpr": "datum.value == 0 ? 'Action' : (datum.value < 0 ? '-1' : '1')", "title": null}},
        "y": {"field": "lo", "type": "quantitative", "scale": {"domain": [40, 100], "nice": false, "zero": false}, "axis": {"values": [50, 60, 70, 80, 90, 100], "title": null, "domainColor": "#8c8c8c", "domainWidth": 2.5}},
        "y2": {"field": "hi"}
       }
      },
      {
       "data": {"name": "decD"},
       "mark": {"type": "line", "strokeWidth": 2.5},
       "encoding": {
        "x": {"field": "t", "type": "quantitative"},
        "y": {"field": "v", "type": "quantitative"},
        "color": {"field": "g", "type": "nominal", "scale": {"domain": ["Vehicle", "5mg/kg", "10mg/kg"], "range": ["#78b144", "#f29a2e", "#b1232b"]}, "legend": null}
       }
      },
      {
       "mark": {"type": "rule", "strokeDash": [4, 4], "color": "#555555", "strokeWidth": 2},
       "encoding": {"y": {"datum": 50}}
      },
      {
       "data": {"name": "note"},
       "mark": {"type": "text", "align": "right", "baseline": "middle", "font": "Lato", "fontSize": 16, "color": "#333333"},
       "encoding": {"x": {"field": "t", "type": "quantitative"}, "y": {"field": "v", "type": "quantitative"}, "text": {"field": "label"}}
      }
     ]
    }
   ],
   "spacing": 83, "bounds": "flush",
   "resolve": {"scale": {"color": "independent"}, "legend": {"color": "independent"}}
  }
 ],
 "spacing": -17,
 "resolve": {"scale": {"color": "independent"}, "legend": {"color": "independent"}}
}
